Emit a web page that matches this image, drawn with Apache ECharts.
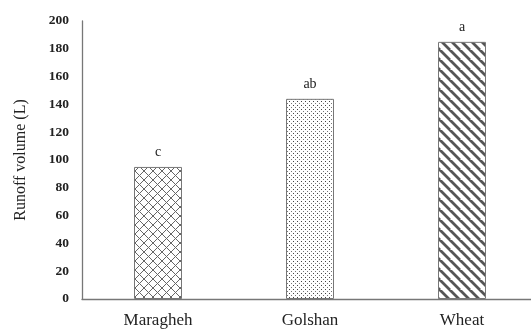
<!DOCTYPE html>
<html><head><meta charset="utf-8">
<script src="https://cdn.jsdelivr.net/npm/echarts@6/dist/echarts.min.js"></script>
<style>html,body{margin:0;padding:0;background:#fff;overflow:hidden;width:531px;height:329px}#c{width:538px;height:329px}</style>
</head><body><div id="c"></div>
<script>
const categories = ['Maragheh', 'Golshan', 'Wheat'];
const values = [95, 144, 185];
const letters = ['c', 'ab', 'a'];
const yTicks = [0, 20, 40, 60, 80, 100, 120, 140, 160, 180, 200];

function mk(w, h, draw) {
  const c = document.createElement('canvas'); c.width = w; c.height = h;
  const g = c.getContext('2d'); g.fillStyle = '#fff'; g.fillRect(0, 0, w, h); draw(g); return c;
}
const cross = mk(9, 9, g => {
  g.strokeStyle = '#666'; g.lineWidth = 1;
  g.beginPath();
  g.moveTo(-1, -1); g.lineTo(10, 10);
  g.moveTo(10, -1); g.lineTo(-1, 10);
  g.stroke();
});
const dots = mk(4, 4, g => {
  g.fillStyle = '#444'; g.fillRect(1, 1, 1, 1);
  g.fillStyle = '#777'; g.fillRect(3, 3, 1, 1);
});
const stripes = mk(10, 10, g => {
  g.strokeStyle = '#555'; g.lineWidth = 2.8;
  g.beginPath();
  for (let k = -10; k <= 20; k += 10) { g.moveTo(k - 10, -10); g.lineTo(k + 10, 10); }
  g.stroke();
});
const patterns = [cross, dots, stripes];

const chart = echarts.init(document.getElementById('c'));
chart.setOption({
  animation: false,
  grid: { left: 82, top: 21, right: 0, bottom: 23, containLabel: false },
  xAxis: {
    type: 'category', data: categories,
    axisLine: { lineStyle: { color: '#777', width: 1.3 } },
    axisTick: { show: false },
    axisLabel: { fontFamily: 'Liberation Serif', fontSize: 17, color: '#222', margin: 13 }
  },
  yAxis: {
    type: 'value', min: 0, max: 200, interval: 20,
    name: 'Runoff volume (L)', nameLocation: 'middle', nameGap: 53, nameRotate: 90,
    nameTextStyle: { fontFamily: 'Liberation Serif', fontSize: 16, color: '#222' },
    axisLine: { show: true, lineStyle: { color: '#777', width: 1.3 } },
    axisTick: { show: false },
    splitLine: { show: false },
    axisLabel: { fontFamily: 'Liberation Serif', fontSize: 13.5, fontWeight: 'bold', color: '#222', margin: 13,
      formatter: v => yTicks.includes(v) ? String(v) : '' }
  },
  series: [{
    type: 'bar', barWidth: 48,
    data: values.map((v, i) => ({
      value: v,
      itemStyle: { color: { image: patterns[i], repeat: 'repeat' }, borderColor: '#777', borderWidth: 1 },
      label: { show: true, position: 'top', distance: 8, formatter: letters[i],
        fontFamily: 'Liberation Serif', fontSize: 14, color: '#222' }
    }))
  }]
});
</script></body></html>
